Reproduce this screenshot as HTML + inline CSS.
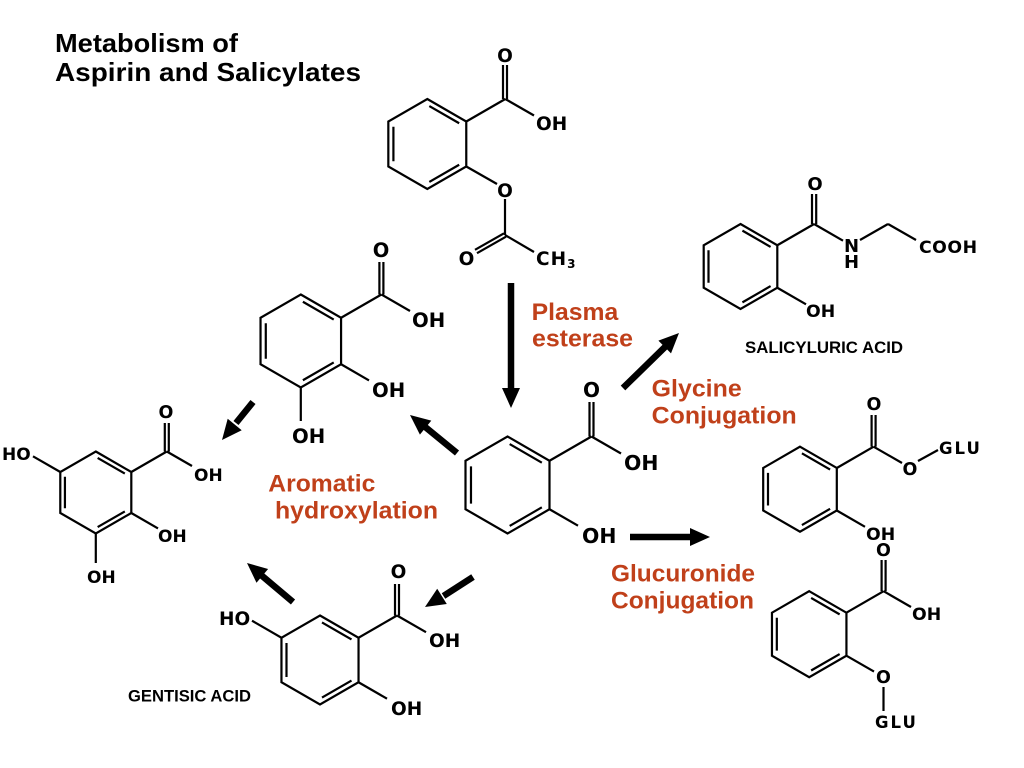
<!DOCTYPE html>
<html><head><meta charset="utf-8"><style>
html,body{margin:0;padding:0;background:#fff;}
svg{display:block;}
.b{stroke:#000;fill:none;stroke-width:2.2;stroke-linecap:butt;}
.a{font-family:"DejaVu Sans",sans-serif;font-weight:bold;fill:#000;}
.r{font-family:"Liberation Sans",Arial,sans-serif;font-weight:bold;fill:#c0401a;font-size:24px;}
.t{font-family:"Liberation Sans",Arial,sans-serif;font-weight:bold;fill:#000;}
</style></head><body>
<svg width="1024" height="768" viewBox="0 0 1024 768" xmlns="http://www.w3.org/2000/svg">
<rect width="1024" height="768" fill="#fff"/>
<defs>
<g id="ring">
<path d="M0,-1 L0.866,-0.5 L0.866,0.5 L0,1 L-0.866,0.5 L-0.866,-0.5 Z" fill="none" stroke="#000" stroke-linejoin="miter"/>
<path d="M0.045,-0.844 L0.708,-0.461 M-0.753,0.383 L-0.753,-0.383 M0.708,0.461 L0.045,0.844" fill="none" stroke="#000"/>
</g>
</defs>

<!-- Title -->
<text class="t" x="55" y="52" font-size="26" textLength="183" lengthAdjust="spacingAndGlyphs">Metabolism of</text>
<text class="t" x="55" y="81" font-size="26" textLength="306" lengthAdjust="spacingAndGlyphs">Aspirin and Salicylates</text>

<!-- Rings -->
<use href="#ring" transform="translate(427.3 144) scale(45)" stroke-width="0.0489"/>
<use href="#ring" transform="translate(507.5 485) scale(48.5)" stroke-width="0.0454"/>
<use href="#ring" transform="translate(740.5 266.5) scale(42.5)" stroke-width="0.0518"/>
<use href="#ring" transform="translate(300.8 341) scale(46.5)" stroke-width="0.0473"/>
<use href="#ring" transform="translate(95.8 492.5) scale(41)" stroke-width="0.0537"/>
<use href="#ring" transform="translate(320 660) scale(44.5)" stroke-width="0.0494"/>
<use href="#ring" transform="translate(800 489.2) scale(42.5)" stroke-width="0.0518"/>
<use href="#ring" transform="translate(809.2 634.2) scale(43)" stroke-width="0.0512"/>

<!-- Bonds -->
<g class="b">
<!-- aspirin -->
<line x1="466.3" y1="121.5" x2="505.3" y2="99"/>
<line x1="503" y1="99" x2="503" y2="65"/>
<line x1="507" y1="99" x2="507" y2="65"/>
<line x1="505.3" y1="99" x2="534" y2="115.5"/>
<line x1="466.3" y1="166.5" x2="497" y2="184"/>
<line x1="505" y1="199" x2="505" y2="235"/>
<line x1="506" y1="236.7" x2="477" y2="253.2"/>
<line x1="504" y1="233.3" x2="475" y2="249.8"/>
<line x1="505" y1="235" x2="534" y2="252"/>
<!-- salicylic -->
<line x1="549.5" y1="460.75" x2="591.5" y2="436.5"/>
<line x1="589.5" y1="436.5" x2="589.5" y2="402"/>
<line x1="593.5" y1="436.5" x2="593.5" y2="402"/>
<line x1="591.5" y1="436.5" x2="621" y2="453.5"/>
<line x1="549.5" y1="509.25" x2="578" y2="525.7"/>
<!-- salicyluric -->
<line x1="777.3" y1="245.25" x2="814.1" y2="224"/>
<line x1="812" y1="224" x2="812" y2="194"/>
<line x1="816.2" y1="224" x2="816.2" y2="194"/>
<line x1="814.1" y1="224" x2="843" y2="240.7"/>
<line x1="860" y1="240" x2="888" y2="224"/>
<line x1="888" y1="224" x2="916" y2="240"/>
<line x1="777.3" y1="287.75" x2="806" y2="304.3"/>
<!-- dihydroxy -->
<line x1="341.1" y1="317.75" x2="381.4" y2="294.5"/>
<line x1="379.4" y1="294.5" x2="379.4" y2="262"/>
<line x1="383.4" y1="294.5" x2="383.4" y2="262"/>
<line x1="381.4" y1="294.5" x2="410" y2="311"/>
<line x1="341.1" y1="364.25" x2="369" y2="380.4"/>
<line x1="300.8" y1="387.5" x2="300.8" y2="421"/>
<!-- trihydroxy -->
<line x1="131.3" y1="472" x2="166.8" y2="451.5"/>
<line x1="164.8" y1="451.5" x2="164.8" y2="423"/>
<line x1="168.8" y1="451.5" x2="168.8" y2="423"/>
<line x1="166.8" y1="451.5" x2="192" y2="466"/>
<line x1="131.3" y1="513" x2="158" y2="528.4"/>
<line x1="95.8" y1="533.5" x2="95.8" y2="563"/>
<line x1="60.3" y1="472" x2="33" y2="456.3"/>
<!-- gentisic -->
<line x1="358.5" y1="637.75" x2="397" y2="615.5"/>
<line x1="395" y1="615.5" x2="395" y2="584"/>
<line x1="399" y1="615.5" x2="399" y2="584"/>
<line x1="397" y1="615.5" x2="426" y2="632.2"/>
<line x1="358.5" y1="682.25" x2="387" y2="698.7"/>
<line x1="281.5" y1="637.75" x2="252" y2="620.7"/>
<!-- glucuronide ester -->
<line x1="836.8" y1="468" x2="873.6" y2="446.7"/>
<line x1="871.6" y1="446.7" x2="871.6" y2="415"/>
<line x1="875.6" y1="446.7" x2="875.6" y2="415"/>
<line x1="873.6" y1="446.7" x2="902" y2="463"/>
<line x1="918" y1="461" x2="938" y2="450"/>
<line x1="836.8" y1="510.5" x2="865" y2="526.8"/>
<!-- glucuronide ether -->
<line x1="846.4" y1="612.7" x2="883.6" y2="591.2"/>
<line x1="881.6" y1="591.2" x2="881.6" y2="560"/>
<line x1="885.6" y1="591.2" x2="885.6" y2="560"/>
<line x1="883.6" y1="591.2" x2="911" y2="607"/>
<line x1="846.4" y1="655.7" x2="874" y2="671.6"/>
<line x1="883.5" y1="687" x2="883.5" y2="711"/>
</g>

<!-- Atom labels -->
<g class="a">
<!-- aspirin -->
<text x="505" y="62" font-size="18.5" text-anchor="middle">O</text>
<text x="536" y="130" font-size="18.5">OH</text>
<text x="505" y="197" font-size="18.5" text-anchor="middle">O</text>
<text x="466.5" y="265" font-size="18.5" text-anchor="middle">O</text>
<text x="536" y="265" font-size="18.5" letter-spacing="1">C<tspan>H</tspan><tspan font-size="12" dy="3">3</tspan></text>
<!-- salicylic -->
<text x="591.5" y="397" font-size="20" text-anchor="middle">O</text>
<text x="624" y="470" font-size="20.4">OH</text>
<text x="582" y="543" font-size="20.4">OH</text>
<!-- salicyluric -->
<text x="815" y="190" font-size="18" text-anchor="middle">O</text>
<text x="851.5" y="252" font-size="18" text-anchor="middle">N</text>
<text x="851.5" y="268" font-size="18" text-anchor="middle">H</text>
<text x="919" y="253" font-size="17.3" letter-spacing="0.5">COOH</text>
<text x="806" y="317" font-size="17.3">OH</text>
<!-- dihydroxy -->
<text x="381" y="257" font-size="19.5" text-anchor="middle">O</text>
<text x="412" y="327" font-size="19.7">OH</text>
<text x="372" y="397" font-size="19.7">OH</text>
<text x="292" y="443" font-size="19.7">OH</text>
<!-- trihydroxy -->
<text x="166" y="418" font-size="17.5" text-anchor="middle">O</text>
<text x="194" y="481" font-size="17">OH</text>
<text x="158" y="542" font-size="17">OH</text>
<text x="87" y="583" font-size="17">OH</text>
<text x="2" y="460" font-size="17">HO</text>
<!-- gentisic -->
<text x="398.5" y="578" font-size="18.5" text-anchor="middle">O</text>
<text x="429" y="647" font-size="18.5">OH</text>
<text x="391" y="715" font-size="18.5">OH</text>
<text x="219" y="625" font-size="18.5">HO</text>
<!-- glucuronide ester -->
<text x="874" y="410" font-size="17.5" text-anchor="middle">O</text>
<text x="910" y="475" font-size="17.5" text-anchor="middle">O</text>
<text x="939" y="454" font-size="16.5" letter-spacing="2">GLU</text>
<text x="866" y="540" font-size="17.3">OH</text>
<!-- glucuronide ether -->
<text x="883.5" y="556" font-size="17.5" text-anchor="middle">O</text>
<text x="912" y="620" font-size="17.3">OH</text>
<text x="883.5" y="683" font-size="17.5" text-anchor="middle">O</text>
<text x="875" y="728" font-size="16.5" letter-spacing="2">GLU</text>
</g>

<!-- Compound names -->
<text class="t" x="745" y="353" font-size="16.8" textLength="158" lengthAdjust="spacingAndGlyphs">SALICYLURIC ACID</text>
<text class="t" x="128" y="701.7" font-size="16.6" textLength="123" lengthAdjust="spacingAndGlyphs">GENTISIC ACID</text>

<!-- Red process labels -->
<text class="r" x="531.7" y="320" textLength="86.6" lengthAdjust="spacingAndGlyphs">Plasma</text>
<text class="r" x="532" y="346.7" textLength="101" lengthAdjust="spacingAndGlyphs">esterase</text>
<text class="r" x="651.7" y="396.7" textLength="90" lengthAdjust="spacingAndGlyphs">Glycine</text>
<text class="r" x="651.7" y="423.3" textLength="145" lengthAdjust="spacingAndGlyphs">Conjugation</text>
<text class="r" x="268.3" y="491.7" textLength="107" lengthAdjust="spacingAndGlyphs">Aromatic</text>
<text class="r" x="275" y="518.3" textLength="163" lengthAdjust="spacingAndGlyphs">hydroxylation</text>
<text class="r" x="611" y="581.7" textLength="144" lengthAdjust="spacingAndGlyphs">Glucuronide</text>
<text class="r" x="611" y="608.3" textLength="143" lengthAdjust="spacingAndGlyphs">Conjugation</text>

<!-- Arrows -->
<g stroke="#000" stroke-width="6.5" fill="none">
<line x1="511" y1="283" x2="511" y2="390"/>
<line x1="623" y1="388" x2="666" y2="346"/>
<line x1="630" y1="537" x2="692" y2="537"/>
<line x1="457" y1="453" x2="424" y2="426"/>
<line x1="253" y1="402" x2="236" y2="423"/>
<line x1="293" y1="602" x2="261" y2="575"/>
<line x1="473" y1="577" x2="443.5" y2="596"/>
</g>
<g fill="#000">
<polygon points="511,408 502,388 520,388"/>
<polygon points="679,333 671,353.4 658.4,340.6"/>
<polygon points="710,537 690,528 690,546"/>
<polygon points="410,415 431.3,420.6 419.9,434.6"/>
<polygon points="222,440 241.7,430.2 227.7,418.8"/>
<polygon points="247,563 268.1,569 256.5,582.8"/>
<polygon points="425,607 446.8,604 437.2,588.8"/>
</g>
</svg>
</body></html>
